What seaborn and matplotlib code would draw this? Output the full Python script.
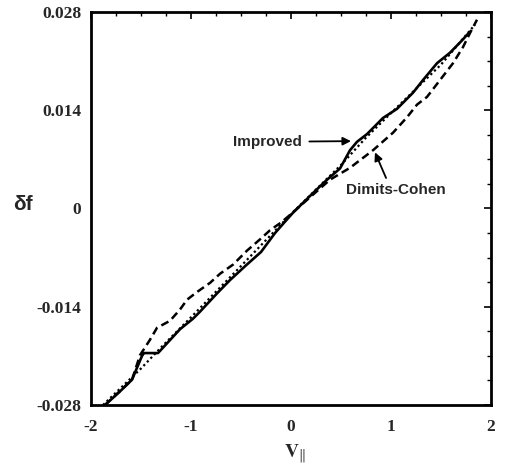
import matplotlib
matplotlib.use("Agg")
import matplotlib.pyplot as plt
from matplotlib.ticker import MultipleLocator, FixedLocator, FixedFormatter
import numpy as np
import pandas as pd
import seaborn as sns

# Perturbed distribution delta-f versus parallel velocity
v_exact = [-1.88, -1.50, -1.30, -1.00, -0.50, 0.00, 0.50, 0.75, 1.00, 1.50, 1.84]
f_exact = [-0.0280, -0.0228, -0.0198, -0.0155, -0.0082, -0.0008, 0.0062, 0.0101, 0.0136, 0.0205, 0.0262]

v_improved = [-1.86, -1.72, -1.59, -1.49, -1.47, -1.33, -1.22, -1.11, -0.98, -0.91,
              -0.74, -0.61, -0.45, -0.30, -0.16, -0.08, 0.02, 0.22, 0.36, 0.49,
              0.59, 0.66, 0.76, 0.92, 1.06, 1.22, 1.32, 1.46, 1.59, 1.70, 1.79]
f_improved = [-0.0280, -0.0262, -0.0244, -0.0210, -0.0206, -0.0206, -0.0189, -0.0172, -0.0157, -0.0147,
              -0.0121, -0.0102, -0.0081, -0.0062, -0.0035, -0.0022, -0.0006, 0.0022, 0.0041, 0.0057,
              0.0083, 0.0095, 0.0106, 0.0129, 0.0142, 0.0165, 0.0183, 0.0207, 0.0222, 0.0238, 0.0252]

v_dimits = [-1.86, -1.59, -1.51, -1.41, -1.34, -1.21, -1.11, -1.04, -0.94, -0.81,
            -0.71, -0.58, -0.44, -0.31, -0.21, -0.10, 0.00, 0.19, 0.39, 0.59,
            0.82, 1.02, 1.16, 1.26, 1.36, 1.49, 1.62, 1.72, 1.79, 1.86]
f_dimits = [-0.0280, -0.0244, -0.0209, -0.0187, -0.0170, -0.0160, -0.0144, -0.0130, -0.0119, -0.0106,
            -0.0093, -0.0080, -0.0060, -0.0044, -0.0031, -0.0020, -0.0008, 0.0016, 0.0041, 0.0058,
            0.0083, 0.0108, 0.0130, 0.0148, 0.0159, 0.0183, 0.0207, 0.0230, 0.0250, 0.0269]

x_ticks = [-2, -1, 0, 1, 2]
x_tick_labels = ["-2", "-1", "0", "1", "2"]
y_ticks = [-0.028, -0.014, 0.0, 0.014, 0.028]
y_tick_labels = ["-0.028", "-0.014", "0", "0.014", "0.028"]

sns.set_style("white")
plt.rcParams["font.family"] = ["Liberation Serif", "DejaVu Serif"]
plt.rcParams["mathtext.fontset"] = "stix"

fig = plt.figure(figsize=(5.07, 4.65), dpi=100)
ax = fig.add_axes([91 / 507, 1 - 405 / 465, 400 / 507, 393 / 465])

sns.lineplot(x=v_exact, y=f_exact, ax=ax, color="black", linewidth=1.6,
             linestyle=(0, (1, 1.3)), sort=False)
sns.lineplot(x=v_dimits, y=f_dimits, ax=ax, color="black", linewidth=1.8,
             linestyle=(0, (3.2, 1.8)), sort=False)
sns.lineplot(x=v_improved, y=f_improved, ax=ax, color="black", linewidth=1.9, sort=False)

ax.set_xlim(-2, 2)
ax.set_ylim(-0.028, 0.028)

ax.xaxis.set_major_locator(FixedLocator(x_ticks))
ax.xaxis.set_major_formatter(FixedFormatter(x_tick_labels))
ax.xaxis.set_minor_locator(MultipleLocator(0.25))
ax.yaxis.set_major_locator(FixedLocator(y_ticks))
ax.yaxis.set_major_formatter(FixedFormatter(y_tick_labels))
ax.yaxis.set_minor_locator(MultipleLocator(0.0035))

ax.tick_params(which="both", direction="in", top=True, right=True, color="black")
ax.tick_params(which="major", length=5, width=1.2)
ax.tick_params(which="minor", length=3, width=1.0)
ax.tick_params(axis="x", which="major", pad=10)
ax.tick_params(axis="y", which="major", pad=7)
for lab in ax.get_xticklabels() + ax.get_yticklabels():
    lab.set_fontfamily(["Liberation Serif", "DejaVu Serif"])
    lab.set_fontweight("bold")
    lab.set_fontsize(12.5)

for s in ax.spines.values():
    s.set_color("black")
    s.set_linewidth(2.0)

ax.set_xlabel(r"$\mathbf{V}_{\Vert}$", fontsize=14)
ax.xaxis.set_label_coords(0.51, -0.095)
ax.set_ylabel("δf", rotation=0, fontsize=15, fontweight="bold",
              fontfamily=["Liberation Sans", "DejaVu Sans"])
ax.yaxis.set_label_coords(-0.17, 0.485)

ax.annotate("Improved", xy=(0.60, 0.0096), xytext=(-0.58, 0.0095),
            ha="left", va="center", fontsize=11, fontweight="bold",
            fontfamily=["Liberation Sans", "DejaVu Sans"],
            arrowprops=dict(arrowstyle="-|>", color="black", lw=1.3,
                            mutation_scale=12, shrinkA=3, shrinkB=0))
ax.annotate("Dimits-Cohen", xy=(0.84, 0.0080), xytext=(1.05, 0.0037),
            ha="center", va="top", fontsize=11, fontweight="bold",
            fontfamily=["Liberation Sans", "DejaVu Sans"],
            arrowprops=dict(arrowstyle="-|>", color="black", lw=1.3,
                            mutation_scale=12, shrinkA=1, shrinkB=0,
                            relpos=(0.42, 1.0)))

fig.savefig("out.png", dpi=100)
